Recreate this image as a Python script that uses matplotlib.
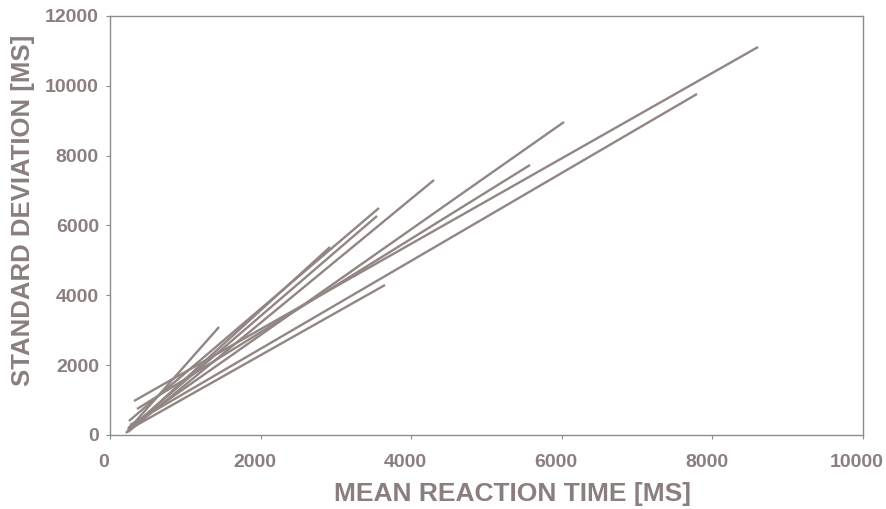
import matplotlib
matplotlib.use("Agg")
import matplotlib.pyplot as plt
import matplotlib.transforms as mtransforms

# Regression lines: start and end points (mean RT, SD) in ms
x_start = [319, 266, 239, 359, 239, 239, 252, 239, 212, 239]
y_start = [974, 286, 200, 745, 86, 143, 401, 143, 57, 143]
x_end = [8606, 7795, 6029, 5578, 4303, 3652, 3572, 3546, 2922, 1448]
y_end = [11112, 9766, 8964, 7733, 7303, 4296, 6501, 6272, 5384, 3093]

x_ticks = [0, 2000, 4000, 6000, 8000, 10000]
y_ticks = [0, 2000, 4000, 6000, 8000, 10000, 12000]

text_color = "#8a7e7f"
line_color = "#918683"
spine_color = "#8c8c8c"

plt.rcParams["font.family"] = ["Liberation Sans", "DejaVu Sans"]
fig = plt.figure(figsize=(8.87, 5.09), dpi=100)
ax = fig.add_axes([0.124, 0.1454, 0.849, 0.8232])

for xs, ys, xe, ye in zip(x_start, y_start, x_end, y_end):
    ax.plot([xs, xe], [ys, ye], color=line_color, lw=1.7, solid_capstyle="butt")

ax.set_xlim(0, 10000)
ax.set_ylim(0, 12000)
ax.set_xticks(x_ticks)
ax.set_yticks(y_ticks)
ax.set_xticklabels([str(v) for v in x_ticks])
ax.set_yticklabels([str(v) for v in y_ticks])

for s in ax.spines.values():
    s.set_color(spine_color)
    s.set_linewidth(1.0)

ax.tick_params(axis="y", direction="out", length=3, width=0.8, color=spine_color,
               pad=5, labelsize=14, labelcolor=text_color)
ax.tick_params(axis="x", direction="out", length=3, width=0.8, color=spine_color,
               pad=11, labelsize=14, labelcolor=text_color)
shift = mtransforms.ScaledTranslation(-6 / 100, 0, fig.dpi_scale_trans)
for lbl in ax.get_xticklabels():
    lbl.set_fontweight("bold")
    lbl.set_transform(lbl.get_transform() + shift)
for lbl in ax.get_yticklabels():
    lbl.set_fontweight("bold")

ax.set_xlabel("MEAN REACTION TIME [MS]", fontsize=19, fontweight="bold",
              color=text_color)
ax.set_ylabel("STANDARD DEVIATION [MS]", fontsize=18.5, fontweight="bold",
              color=text_color)
ax.xaxis.set_label_coords(0.534, -0.112)
ax.yaxis.set_label_coords(-0.100, 0.537)

fig.savefig("out.png", dpi=100)
